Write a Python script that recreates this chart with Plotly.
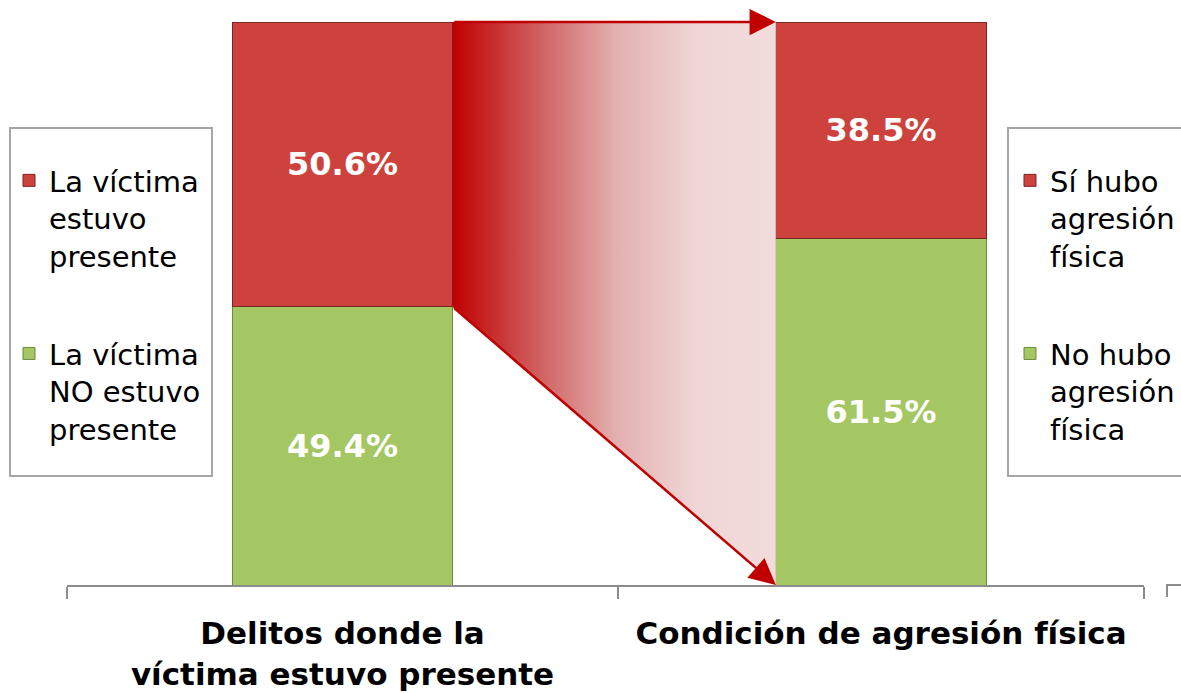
import plotly.graph_objects as go

W, H = 1181, 693
FONT = "DejaVu Sans"

# data
cat_left = "Delitos donde la<br>víctima estuvo presente"
cat_right = "Condición de agresión física"
left_names = ["La víctima<br>NO estuvo<br>presente", "La víctima<br>estuvo<br>presente"]
left_values = [49.4, 50.6]
right_names = ["No hubo<br>agresión<br>física", "Sí hubo<br>agresión<br>física"]
right_values = [61.5, 38.5]

GREEN = "#A5C763"
RED = "#CE423E"
colors = [GREEN, RED]
edge = ["#6E8A3A", "#7A2624"]
ranks = [2, 1]

BAR_W = 0.4
dom_left = [67 / W, 618 / W]
dom_right = [618 / W, 1144 / W]
dom_y = [(H - 585) / H, (H - 22) / H]

fig = go.Figure()

# funnel between the bars, derived from the bar edges and stacked values
x_l = dom_left[0] + (0.5 + BAR_W / 2) * (dom_left[1] - dom_left[0])
x_r = dom_right[0] + (0.5 - BAR_W / 2) * (dom_right[1] - dom_right[0])
top = sum(left_values)
left_split = left_values[0]
fig.add_trace(go.Scatter(
    x=[x_l, x_r, x_r, x_l, x_l], y=[top, top, 0, left_split, top],
    mode="lines", fill="toself", line=dict(width=0),
    fillgradient=dict(type="horizontal", colorscale=[
        [0, "#C00000"], [0.25, "#CF5A5A"], [0.5, "#E2AEAE"],
        [0.75, "#F0D6D6"], [1, "#F2DCDB"]]),
    showlegend=False, hoverinfo="skip", xaxis="x3", yaxis="y3",
))

for name, val, c, e, r in zip(left_names, left_values, colors, edge, ranks):
    fig.add_trace(go.Bar(
        x=[cat_left], y=[val], name=name, width=BAR_W,
        marker=dict(color=c, line=dict(color=e, width=1)),
        texttemplate="%{y:.1f}%", textposition="inside", insidetextanchor="middle",
        textfont=dict(family=FONT, size=32, color="white", weight="bold"),
        xaxis="x", yaxis="y", legend="legend", legendgroup=name, legendrank=r,
    ))
for name, val, c, e, r in zip(right_names, right_values, colors, edge, ranks):
    fig.add_trace(go.Bar(
        x=[cat_right], y=[val], name=name, width=BAR_W,
        marker=dict(color=c, line=dict(color=e, width=1)),
        texttemplate="%{y:.1f}%", textposition="inside", insidetextanchor="middle",
        textfont=dict(family=FONT, size=32, color="white", weight="bold"),
        xaxis="x2", yaxis="y2", legend="legend2", legendgroup=name, legendrank=r,
    ))

for (y_from, y_to) in [(top, top), (left_split, 0)]:
    fig.add_annotation(
        x=x_r, y=y_to, ax=x_l, ay=y_from, xref="x3", yref="y3", axref="x3", ayref="y3",
        text="", showarrow=True, arrowhead=2, arrowsize=2.1, arrowwidth=2.5,
        arrowcolor="#C00000",
    )

axis_common = dict(
    type="category", range=[-0.5, 0.5], showline=True, linecolor="#8C8C8C", linewidth=2,
    ticks="outside", tickson="boundaries", ticklen=12, tickwidth=2, tickcolor="#8C8C8C",
    showgrid=False, zeroline=False, automargin=False, ticklabelstandoff=20,
    tickfont=dict(family=FONT, size=31, color="black", weight="bold"),
)

legend_common = dict(
    xanchor="left", yanchor="top", bgcolor="rgba(0,0,0,0)", borderwidth=0,
    font=dict(family=FONT, size=29, color="black"),
    traceorder="grouped", tracegroupgap=57, valign="top",
)

fig.update_layout(
    width=W, height=H,
    margin=dict(l=0, r=0, t=0, b=0),
    paper_bgcolor="white", plot_bgcolor="rgba(0,0,0,0)",
    barmode="stack", showlegend=True,
    xaxis=dict(axis_common, domain=dom_left, anchor="y"),
    yaxis=dict(domain=dom_y, range=[0, 100], visible=False, anchor="x"),
    xaxis2=dict(axis_common, domain=dom_right, anchor="y2"),
    yaxis2=dict(domain=dom_y, range=[0, 100], visible=False, anchor="x2"),
    xaxis3=dict(domain=[0, 1], range=[0, 1], visible=False, anchor="y3"),
    yaxis3=dict(domain=dom_y, range=[0, 100], visible=False, anchor="x3"),
    legend=dict(legend_common, x=9 / W, y=1 - 155 / H),
    legend2=dict(legend_common, x=1010 / W, y=1 - 155 / H),
    shapes=[
        dict(type="rect", xref="paper", yref="paper", x0=10 / W, x1=212 / W,
             y0=1 - 476 / H, y1=1 - 128 / H, line=dict(color="#A6A6A6", width=2)),
        dict(type="rect", xref="paper", yref="paper", x0=1008 / W, x1=1.01,
             y0=1 - 476 / H, y1=1 - 128 / H, line=dict(color="#A6A6A6", width=2)),
        dict(type="path", xref="paper", yref="paper",
             path=f"M {1167 / W} {1 - 597 / H} L {1167 / W} {1 - 585 / H} L 1.01 {1 - 585 / H}",
             line=dict(color="#8C8C8C", width=2)),
    ],
)

fig.write_html("out.html", config={"displayModeBar": False},
               post_script="document.body.style.margin='0';")
